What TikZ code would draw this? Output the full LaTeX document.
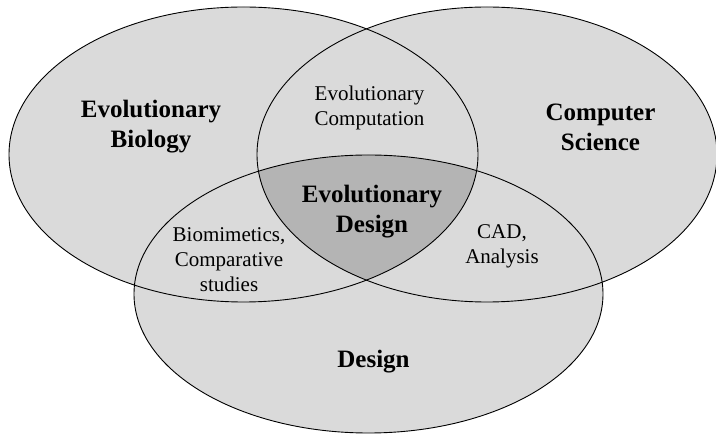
\documentclass[tikz,border=0pt]{standalone}
\usepackage{fontspec}
\setmainfont{Liberation Serif}
\definecolor{lightfill}{HTML}{DADADA}
\definecolor{darkfill}{HTML}{B4B4B4}
\tikzset{
  outline/.style={draw=black, line width=0.9pt},
  biglabel/.style={align=center, font=\fontsize{25}{30}\selectfont\bfseries, inner sep=0pt},
  smalllabel/.style={align=center, font=\fontsize{21}{25}\selectfont, inner sep=0pt}
}
\begin{document}
\begin{tikzpicture}[x=1pt,y=-1pt]
\useasboundingbox (0,0) rectangle (716,435);
\clip (0,0) rectangle (716,435);
\def\bio{(243.5,154.5) ellipse [x radius=234.5pt, y radius=147.5pt]}
\def\cs{(487,154.5) ellipse [x radius=230pt, y radius=147.5pt]}
\def\des{(368.5,294) ellipse [x radius=234.5pt, y radius=139pt]}
% fills
\fill[lightfill] \bio;
\fill[lightfill] \cs;
\fill[lightfill] \des;
\begin{scope}
  \clip \bio;
  \clip \cs;
  \fill[darkfill] \des;
\end{scope}
% outlines
\draw[outline] \bio;
\draw[outline] \cs;
\draw[outline] \des;
% labels
\node[biglabel] (evobio) at (151,127) {Evolutionary\\Biology};
\node[biglabel] (compsci) at (600.5,127) {Computer\\Science};
\node[biglabel] (evodes) at (372,212) {Evolutionary\\Design};
\node[biglabel] (design) at (373.5,362) {Design};
\node[smalllabel] (evocomp) at (369.5,108) {Evolutionary\\Computation};
\node[smalllabel] (biomim) at (229,260) {Biomimetics,\\Comparative\\studies};
\node[smalllabel] (cad) at (502,246) {CAD,\\Analysis};
\end{tikzpicture}
\end{document}
